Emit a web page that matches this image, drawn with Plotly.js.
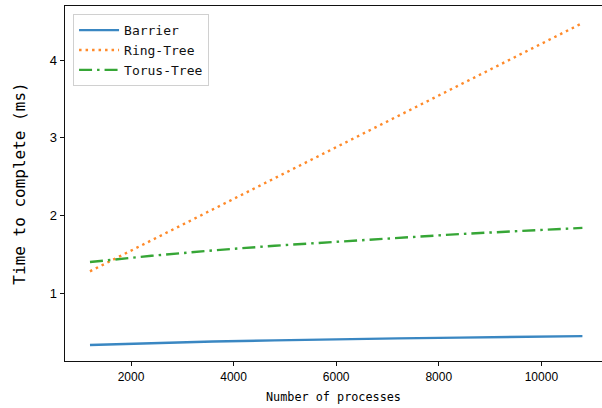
<!DOCTYPE html>
<html>
<head>
<meta charset="utf-8">
<script src="https://cdn.plot.ly/plotly-3.0.1.min.js"></script>
<style>html,body{margin:0;padding:0;background:#fff;}#chart{width:602px;height:408px;}</style>
</head>
<body>
<div id="chart"></div>
<script>
const processes = [1200, 2400, 3600, 4800, 6000, 7200, 8400, 9600, 10800];
const barrier   = [0.33, 0.355, 0.375, 0.39, 0.405, 0.415, 0.425, 0.435, 0.445];
const ringTree  = [1.28, 1.68, 2.08, 2.48, 2.88, 3.28, 3.68, 4.08, 4.48];
const torusTree = [1.40, 1.48, 1.55, 1.61, 1.66, 1.71, 1.76, 1.80, 1.84];
const seriesNames = ["Barrier", "Ring-Tree", "Torus-Tree"];
const xTicks = [2000, 4000, 6000, 8000, 10000];
const yTicks = [1, 2, 3, 4];

const mono = "DejaVu Sans Mono, monospace";
const traces = [
  {x: processes, y: barrier, name: seriesNames[0], mode: "lines",
   line: {color: "#3a87c2", width: 2.4, dash: "solid"}},
  {x: processes, y: ringTree, name: seriesNames[1], mode: "lines",
   line: {color: "#ff8a2a", width: 2.4, dash: "2.5px,4px"}},
  {x: processes, y: torusTree, name: seriesNames[2], mode: "lines",
   line: {color: "#36a636", width: 2.4, dash: "13px,5px,2.5px,5px"}}
];

const layout = {
  width: 602, height: 408,
  margin: {l: 65, r: 0, t: 6, b: 47},
  paper_bgcolor: "#fff", plot_bgcolor: "#fff",
  showlegend: true,
  legend: {x: 0.015, y: 0.977, xanchor: "left", yanchor: "top", itemwidth: 40,
           bgcolor: "rgba(255,255,255,0.8)", bordercolor: "#d0d0d0", borderwidth: 1,
           font: {family: mono, size: 13, color: "#111"}},
  xaxis: {range: [713, 11182], tickvals: xTicks, ticktext: xTicks.map(String),
          showgrid: false, zeroline: false, showline: true, linecolor: "#111", linewidth: 1.3,
          mirror: true, ticks: "outside", ticklen: 4, tickcolor: "#111",
          tickfont: {family: "Liberation Sans, Arial", size: 12, color: "#000"},
          title: {text: "Number of processes", font: {family: mono, size: 11.8, color: "#000"}, standoff: 10}},
  yaxis: {range: [0.124, 4.70], tickvals: yTicks, ticktext: yTicks.map(String),
          showgrid: false, zeroline: false, showline: true, linecolor: "#111", linewidth: 1.3,
          mirror: false, ticks: "outside", ticklen: 4, tickcolor: "#111",
          tickfont: {family: "Liberation Sans, Arial", size: 13, color: "#000"},
          title: {text: "Time to complete (ms)", font: {family: mono, size: 16, color: "#000"}, standoff: 20}}
};

Plotly.newPlot("chart", traces, layout, {displayModeBar: false, staticPlot: true});
</script>
</body>
</html>
